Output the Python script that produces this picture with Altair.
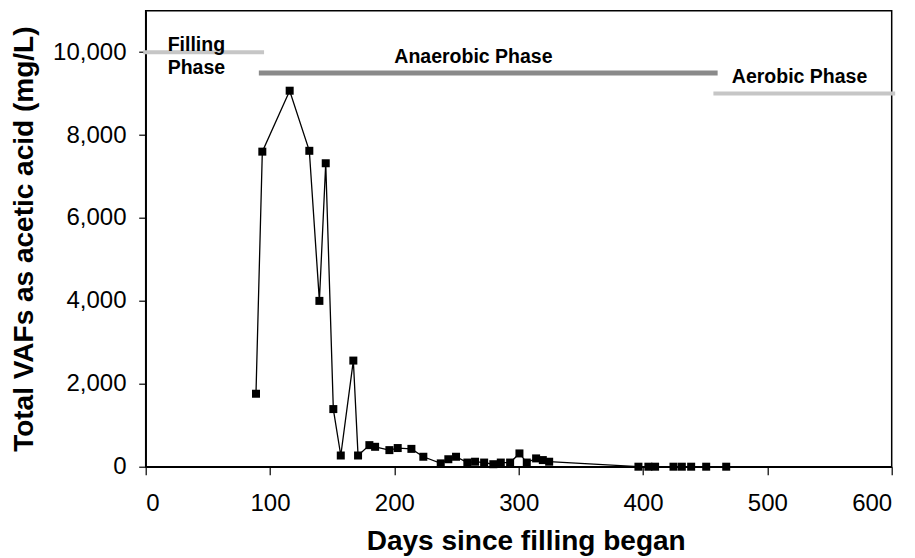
import altair as alt
import pandas as pd

# Measured data: days since filling began vs total VFAs (mg/L as acetic acid)
days = [88.7, 93.8, 115.8, 131.6, 139.7, 144.8, 150.9, 156.9, 167.0, 170.8,
        179.9, 184.5, 196.0, 202.7, 213.7, 223.3, 237.3, 243.4, 249.6, 258.7,
        264.9, 272.2, 279.6, 285.6, 293.1, 300.6, 306.5, 314.0, 319.4, 324.5,
        396.3, 404.3, 409.7, 424.5, 431.2, 438.7, 450.8, 466.9]
vfa = [1760, 7600, 9070, 7620, 4000, 7320, 1390, 270, 2560, 270,
       520, 480, 400, 450, 430, 240, 80, 180, 240, 100,
       120, 100, 60, 100, 100, 320, 100, 200, 160, 120,
       0, 0, 0, 0, 0, 0, 0, 0]

# Phase bars
phase_names = ["Filling", "Anaerobic", "Aerobic"]
phase_start = [-2, 91, 456.6]
phase_end = [95.2, 460, 602.8]
phase_level = [10000, 9500, 9000]
phase_color = ["#c6c6c6", "#8a8a8a", "#c6c6c6"]
phase_width = [4, 5, 4]

# Phase labels
label_text = ["Filling", "Phase", "Anaerobic Phase", "Aerobic Phase"]
label_day = [17.7, 17.7, 263.6, 471.4]
label_val = [10024, 9461, 9744, 9261]
label_align = ["left", "left", "center", "left"]

x_ticks = [0, 100, 200, 300, 400, 500, 600]
y_ticks = [0, 2000, 4000, 6000, 8000, 10000]

df = pd.DataFrame({"day": days, "vfa": vfa})
phases = pd.DataFrame({"name": phase_names, "start": phase_start, "end": phase_end,
                       "level": phase_level, "color": phase_color, "w": phase_width})
labels = pd.DataFrame({"text": label_text, "day": label_day, "val": label_val,
                       "align": label_align})

FONT = "Liberation Sans"

xscale = alt.Scale(domain=[0, 600], nice=False, zero=False)
yscale = alt.Scale(domain=[0, 11000], nice=False)

xaxis = alt.Axis(values=x_ticks, format="d", title="Days since filling began", grid=False,
                 tickSize=8, labelPadding=17, labelFontSize=24, labelFont=FONT,
                 titleFont=FONT, titleFontSize=28, titleFontWeight="bold",
                 titleX=380, titleY=83, titleBaseline="alphabetic", titleAlign="center",
                 titleAnchor="start")
yaxis = alt.Axis(values=y_ticks, format=",.0f", title="Total VAFs as acetic acid (mg/L)",
                 grid=False, tickSize=7, labelPadding=12.7, labelFontSize=24,
                 labelFont=FONT, titleFont=FONT, titleFontSize=28, titleFontWeight="bold",
                 titleX=-121, titleY=228, titleAngle=270, titleBaseline="middle",
                 titleAlign="center", titleAnchor="start")


def X(field):
    return alt.X(field, type="quantitative", scale=xscale, axis=xaxis)


def Y(field):
    return alt.Y(field, type="quantitative", scale=yscale, axis=yaxis)


bars = alt.Chart(phases).mark_rule(clip=False).encode(
    x=X("start"),
    x2="end:Q",
    y=Y("level"),
    color=alt.Color("color:N", scale=None),
    strokeWidth=alt.StrokeWidth("w:Q", scale=None),
)

line = alt.Chart(df).mark_line(color="black", strokeWidth=1.3, clip=False).encode(
    x=X("day"), y=Y("vfa"),
)
pts = alt.Chart(df).mark_point(shape="square", filled=True, color="black", size=64,
                               opacity=1, clip=False).encode(
    x=X("day"), y=Y("vfa"),
)

txt_left = alt.Chart(labels[labels["align"] == "left"]).mark_text(
    align="left", baseline="alphabetic", font=FONT, fontSize=19.5, fontWeight="bold",
    color="black", clip=False).encode(
    x=X("day"), y=Y("val"), text="text:N",
)
txt_center = alt.Chart(labels[labels["align"] == "center"]).mark_text(
    align="center", baseline="alphabetic", font=FONT, fontSize=19.5, fontWeight="bold",
    color="black", clip=False).encode(
    x=X("day"), y=Y("val"), text="text:N",
)

chart = alt.layer(bars, line, pts, txt_left, txt_center).properties(
    width=746, height=456,
    padding={"left": 145.7, "top": 10.7, "right": 23.3, "bottom": 91.3},
    autosize=alt.AutoSizeParams(type="none"),
    background="white",
).configure_view(
    stroke="black", strokeWidth=1.5
).configure_axis(
    domainColor="black", domainWidth=1.5, tickColor="black", tickWidth=1.2,
    labelColor="black", titleColor="black",
)

chart.save("out.html", embed_options={"renderer": "svg", "actions": False})
